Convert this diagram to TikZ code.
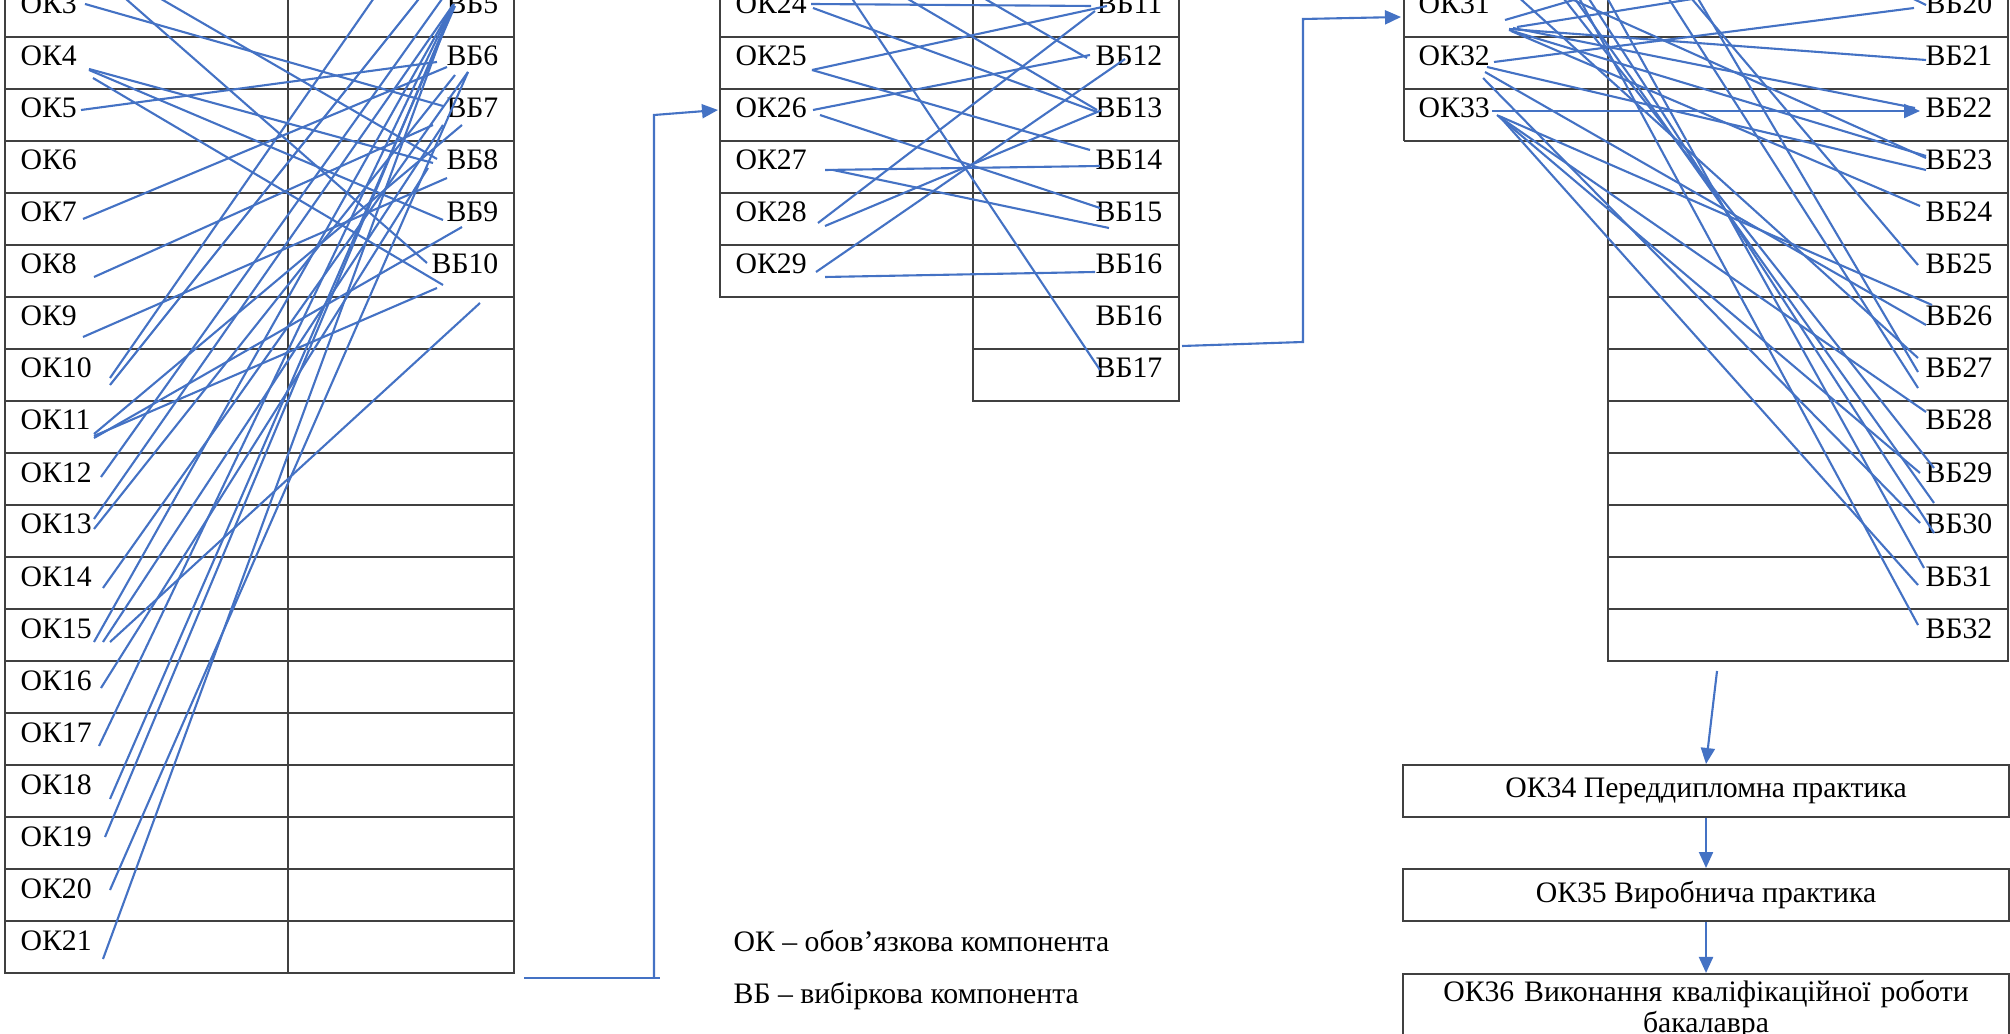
\documentclass[tikz,border=0pt]{standalone}
\usepackage{fontspec}
\setmainfont{Liberation Serif}
\usetikzlibrary{arrows.meta}
\definecolor{zvcol}{RGB}{68,114,196}
\newcommand{\tabfont}{\fontsize{8.45}{8.8}\selectfont}

\begin{document}
\begin{tikzpicture}[
        x=0.01cm, y=-0.01cm,
        ok/.style={anchor=base west, inner sep=0pt, font=\tabfont},
        vb/.style={anchor=base east, inner sep=0pt, font=\tabfont},
        sitka/.style={draw=black!75, line width=0.55pt},
        zv/.style={draw=zvcol, line width=0.6pt},
        strilka/.style={zv, -{Triangle[length=1.6mm, width=1.4mm]}},
        blok/.style={draw=black!75, line width=0.55pt, minimum width=6.06cm, minimum height=0.52cm, inner sep=0pt, align=center, font=\tabfont}
    ]
    \useasboundingbox (0,0) rectangle (2010,1034);
    \clip (0,0) rectangle (2010,1034);

    \draw[sitka] (5,-15) rectangle (514,973);
    \draw[sitka] (288,-15) -- (288,973);
    \foreach \k in {0,...,17}
        \draw[sitka] (5,{37+52*\k}) -- (514,{37+52*\k});

    \draw[sitka] (720,-15) -- (720,297) -- (973,297);
    \draw[sitka] (973,-15) -- (973,401) -- (1179,401) -- (1179,-15);
    \foreach \k in {0,...,5}
        \draw[sitka] (720,{37+52*\k}) -- (1179,{37+52*\k});
    \draw[sitka] (973,349) -- (1179,349);

    \draw[sitka] (1404,-15) -- (1404,141);
    \draw[sitka] (1608,-15) -- (1608,661) -- (2008,661) -- (2008,-15);
    \foreach \k in {0,...,2}
        \draw[sitka] (1404,{37+52*\k}) -- (2008,{37+52*\k});
    \foreach \k in {3,...,11}
        \draw[sitka] (1608,{37+52*\k}) -- (2008,{37+52*\k});

    \foreach \n in {3,...,21}
        \node[ok] (ok\n) at (20,{14+52*(\n-3)}) {ОК\n};
    \foreach \n in {5,...,10}
        \node[vb] (vb\n) at (499,{14+52*(\n-5)}) {ВБ\n};
    \foreach \n in {24,...,29}
        \node[ok] (ok\n) at (735,{14+52*(\n-24)}) {ОК\n};
    \foreach \n in {11,...,16}
        \node[vb] (vb\n) at (1163,{14+52*(\n-11)}) {ВБ\n};
    \node[vb] (vb16b) at (1163,326) {ВБ16};
    \node[vb] (vb17) at (1163,378) {ВБ17};
    \foreach \n in {31,...,33}
        \node[ok] (ok\n) at (1418,{14+52*(\n-31)}) {ОК\n};
    \foreach \n in {20,...,32}
        \node[vb] (vb\n) at (1993,{14+52*(\n-20)}) {ВБ\n};

    \node[blok] (ok34) at (1706,791) {ОК34 Переддипломна практика};
    \node[blok] (ok35) at (1706,895) {ОК35 Виробнича практика};
    \node[blok, anchor=north, text width=5.9cm, inner xsep=0.08cm, inner ysep=1.8pt] (ok36) at (1706,973) {ОК36 Виконання кваліфікаційної роботи\\бакалавра};

    \node[ok] (legok) at (733,951) {ОК – обов’язкова компонента};
    \node[ok] (legvb) at (733,1003) {ВБ – вибіркова компонента};

    \coordinate (p1) at (524,978);
    \coordinate (p2) at (660,978);
    \coordinate (p3) at (654,978);
    \coordinate (p4) at (654,115);
    \coordinate (q1) at (1182,346);
    \coordinate (q2) at (1303,342);
    \coordinate (q3) at (1303,19);
    \coordinate (s1) at (1717,671);

    \draw[zv] (p1) -- (p2);
    \draw[strilka] (p3) -- (p4) -- ([shift={(-17,-8)}]ok26.base west);
    \draw[strilka] (q1) -- (q2) -- (q3) -- ([shift={(-17,3)}]ok31.base west);
    \draw[strilka] (s1) -- (ok34.north);
    \draw[strilka] (ok34.south) -- (ok35.north);
    \draw[strilka] (ok35.south) -- (ok36.north);

    \coordinate (t1) at (110,-15);
    \coordinate (t2) at (137,-15);
    \coordinate (t3) at (383,-15);
    \coordinate (t4) at (430,-15);
    \coordinate (t5) at (452,-15);

    \draw[zv] ([shift={(65,-10)}]ok3.base west) -- ([shift={(-56,-12)}]vb7.base east);
    \draw[zv] (t1) -- ([shift={(-72,-11)}]vb10.base east);
    \draw[zv] (t2) -- ([shift={(-62,-11)}]vb8.base east);
    \draw[zv] ([shift={(69,3)}]ok4.base west) -- ([shift={(-66,-7)}]vb8.base east);
    \draw[zv] ([shift={(69,4)}]ok4.base west) -- ([shift={(-56,-2)}]vb9.base east);
    \draw[zv] ([shift={(73,12)}]ok4.base west) -- ([shift={(-56,11)}]vb10.base east);
    \draw[zv] ([shift={(61,-8)}]ok5.base west) -- ([shift={(-62,-4)}]vb6.base east);
    \draw[zv] ([shift={(63,-3)}]ok7.base west) -- ([shift={(-52,1)}]vb6.base east);
    \draw[zv] ([shift={(74,3)}]ok8.base west) -- ([shift={(-66,7)}]vb7.base east);
    \draw[zv] ([shift={(63,11)}]ok9.base west) -- ([shift={(-52,8)}]vb8.base east);
    \draw[zv] ([shift={(90,0)}]ok10.base west) -- (t3);
    \draw[zv] ([shift={(90,7)}]ok10.base west) -- (t4);
    \draw[zv] ([shift={(74,6)}]ok11.base west) -- ([shift={(-62,14)}]vb10.base east);
    \draw[zv] ([shift={(74,4)}]ok11.base west) -- ([shift={(-37,7)}]vb7.base east);
    \draw[zv] ([shift={(74,8)}]ok11.base west) -- ([shift={(-37,5)}]vb9.base east);
    \draw[zv] ([shift={(81,-5)}]ok12.base west) -- (t5);
    \draw[zv] ([shift={(74,-15)}]ok13.base west) -- ([shift={(-46,-9)}]vb5.base east);
    \draw[zv] ([shift={(74,-5)}]ok13.base west) -- ([shift={(-44,9)}]vb6.base east);
    \draw[zv] ([shift={(83,2)}]ok14.base west) -- ([shift={(-31,6)}]vb6.base east);
    \draw[zv] ([shift={(74,4)}]ok15.base west) -- ([shift={(-46,-9)}]vb5.base east);
    \draw[zv] ([shift={(83,4)}]ok15.base west) -- ([shift={(-56,7)}]vb7.base east);
    \draw[zv] ([shift={(90,4)}]ok15.base west) -- ([shift={(-19,29)}]vb10.base east);
    \draw[zv] ([shift={(81,-2)}]ok16.base west) -- ([shift={(-71,-2)}]vb8.base east);
    \draw[zv] ([shift={(79,4)}]ok17.base west) -- ([shift={(-46,-9)}]vb5.base east);
    \draw[zv] ([shift={(90,5)}]ok18.base west) -- ([shift={(-44,-8)}]vb5.base east);
    \draw[zv] ([shift={(85,-9)}]ok19.base west) -- ([shift={(-45,-10)}]vb5.base east);
    \draw[zv] ([shift={(90,-8)}]ok20.base west) -- ([shift={(-31,6)}]vb6.base east);
    \draw[zv] ([shift={(83,9)}]ok21.base west) -- ([shift={(-46,-9)}]vb5.base east);

    \coordinate (t6) at (843,-15);
    \coordinate (t7) at (884,-15);
    \coordinate (t8) at (961,-15);

    \draw[zv] ([shift={(76,-10)}]ok24.base west) -- ([shift={(-72,-8)}]vb11.base east);
    \draw[zv] ([shift={(78,-6)}]ok24.base west) -- ([shift={(-66,-6)}]vb13.base east);
    \draw[zv] (t6) -- ([shift={(-63,-8)}]vb17.base east);
    \draw[zv] (t7) -- ([shift={(-66,-8)}]vb13.base east);
    \draw[zv] (t8) -- ([shift={(-76,-8)}]vb12.base east);
    \draw[zv] ([shift={(77,4)}]ok25.base west) -- ([shift={(-56,-8)}]vb11.base east);
    \draw[zv] ([shift={(77,4)}]ok25.base west) -- ([shift={(-73,-20)}]vb14.base east);
    \draw[zv] ([shift={(78,-8)}]ok26.base west) -- ([shift={(-73,-11)}]vb12.base east);
    \draw[zv] ([shift={(85,-3)}]ok26.base west) -- ([shift={(-63,-14)}]vb15.base east);
    \draw[zv] ([shift={(90,0)}]ok27.base west) -- ([shift={(-63,-4)}]vb14.base east);
    \draw[zv] ([shift={(98,0)}]ok27.base west) -- ([shift={(-54,6)}]vb15.base east);
    \draw[zv] ([shift={(83,1)}]ok28.base west) -- ([shift={(-68,-3)}]vb11.base east);
    \draw[zv] ([shift={(90,4)}]ok28.base west) -- ([shift={(-61,-8)}]vb13.base east);
    \draw[zv] ([shift={(81,-2)}]ok29.base west) -- ([shift={(-38,-7)}]vb12.base east);
    \draw[zv] ([shift={(90,3)}]ok29.base west) -- ([shift={(-68,-2)}]vb16.base east);

    \coordinate (t9) at (1625,-15);
    \coordinate (t10) at (1780,-15);
    \coordinate (t11) at (1885,-15);
    \coordinate (t12) at (1505,-15);
    \coordinate (t13) at (1553,-15);
    \coordinate (t14) at (1565,-15);
    \coordinate (t15) at (1572,-15);
    \coordinate (t16) at (1580,-15);
    \coordinate (t17) at (1600,-15);
    \coordinate (t18) at (1660,-15);
    \coordinate (t19) at (1690,-15);
    \coordinate (t20) at (1540,-15);
    \coordinate (t21) at (1680,-15);

    \draw[zv] ([shift={(87,6)}]ok31.base west) -- (t9);
    \draw[zv] ([shift={(99,13)}]ok31.base west) -- (t10);
    \draw[zv] ([shift={(91,15)}]ok31.base west) -- ([shift={(-67,-6)}]vb21.base east);
    \draw[zv] ([shift={(95,14)}]ok31.base west) -- ([shift={(-78,-10)}]vb22.base east);
    \draw[zv] ([shift={(91,16)}]ok31.base west) -- ([shift={(-67,-14)}]vb23.base east);
    \draw[zv] ([shift={(93,17)}]ok31.base west) -- ([shift={(-73,-16)}]vb24.base east);
    \draw[zv] ([shift={(76,-4)}]ok32.base west) -- ([shift={(-79,-6)}]vb20.base east);
    \draw[zv] ([shift={(69,1)}]ok32.base west) -- ([shift={(-67,0)}]vb23.base east);
    \draw[zv] ([shift={(65,12)}]ok32.base west) -- ([shift={(-73,-11)}]vb30.base east);
    \draw[zv] ([shift={(67,6)}]ok32.base west) -- ([shift={(-67,-1)}]vb26.base east);
    \draw[strilka] ([shift={(74,-7)}]ok33.base west) -- ([shift={(-73,-7)}]vb22.base east);
    \draw[zv] ([shift={(82,-1)}]ok33.base west) -- ([shift={(-75,-1)}]vb31.base east);
    \draw[zv] ([shift={(79,-3)}]ok33.base west) -- ([shift={(-73,-9)}]vb29.base east);
    \draw[zv] ([shift={(81,-2)}]ok33.base west) -- ([shift={(-61,-21)}]vb26.base east);
    \draw[zv] ([shift={(83,0)}]ok33.base west) -- ([shift={(-67,-18)}]vb28.base east);
    \draw[zv] (t11) -- ([shift={(-67,-9)}]vb20.base east);
    \draw[zv] (t12) -- ([shift={(-75,-20)}]vb27.base east);
    \draw[zv] (t13) -- ([shift={(-59,-14)}]vb29.base east);
    \draw[zv] (t14) -- ([shift={(-59,-31)}]vb30.base east);
    \draw[zv] (t15) -- ([shift={(-75,-13)}]vb32.base east);
    \draw[zv] (t16) -- ([shift={(-59,-1)}]vb30.base east);
    \draw[zv] (t17) -- ([shift={(-69,-18)}]vb31.base east);
    \draw[zv] (t18) -- ([shift={(-75,10)}]vb27.base east);
    \draw[zv] (t19) -- ([shift={(-75,-6)}]vb27.base east);
    \draw[zv] (t20) -- ([shift={(-67,-12)}]vb23.base east);
    \draw[zv] (t21) -- ([shift={(-75,-9)}]vb25.base east);
\end{tikzpicture}
\end{document}
